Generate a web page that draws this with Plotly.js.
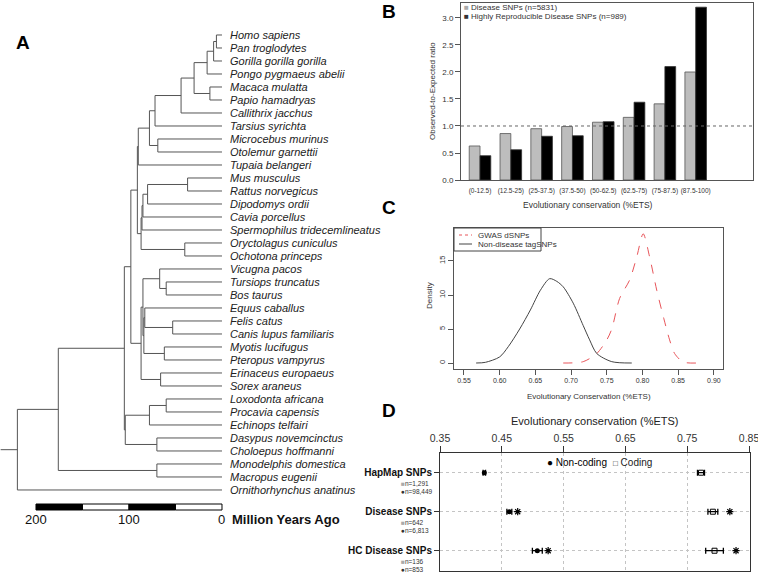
<!DOCTYPE html>
<html>
<head>
<meta charset="utf-8">
<script src="https://cdn.plot.ly/plotly-3.0.1.min.js"></script>
<style>body{margin:0;background:#fff}#fig{width:758px;height:572px}</style>
</head>
<body>
<div id="fig"></div>
<script>
// ---------- A: species tree, node ages in million years ----------
const tree = [220,
  [176,
    [105,
      [98,
        [91,
          [90,
            [78,
              [72, [44, [30, [16, [9, [6, 'Homo sapiens', 'Pan troglodytes'], 'Gorilla gorilla gorilla'], 'Pongo pygmaeus abelii'],
                          [13, 'Macaca mulatta', 'Papio hamadryas']], 'Callithrix jacchus'], 'Tarsius syrichta'],
              [69, 'Microcebus murinus', 'Otolemur garnettii']],
            'Tupaia belangeri'],
          [87,
            [86, [85, [80, [37, 'Mus musculus', 'Rattus norvegicus'], 'Dipodomys ordii'], 'Cavia porcellus'], 'Spermophilus tridecemlineatus'],
            [40, 'Oryctolagus cuniculus', 'Ochotona princeps']]],
        [87,
          [85,
            [67, 'Vicugna pacos', [60, 'Tursiops truncatus', 'Bos taurus']],
            [84, [83, 'Equus caballus', [53, 'Felis catus', 'Canis lupus familiaris']],
                 [62, 'Myotis lucifugus', 'Pteropus vampyrus']]],
          [66, 'Erinaceus europaeus', 'Sorex araneus']]],
      [104,
        [78, [60, 'Loxodonta africana', 'Procavia capensis'], 'Echinops telfairi'],
        [70, 'Dasypus novemcinctus', 'Choloepus hoffmanni']]],
    [70, 'Monodelphis domestica', 'Macropus eugenii']],
  'Ornithorhynchus anatinus'];
const rootAge = 238;
const scaleBreaks = [200, 150, 100, 50, 0];
const scaleLabels = [200, 100, 0];

// ---------- B: observed / expected ratio by %ETS bin ----------
const etsBins = ['(0-12.5)','(12.5-25)','(25-37.5)','(37.5-50)','(50-62.5)','(62.5-75)','(75-87.5)','(87.5-100)'];
const diseaseRatio = [0.63, 0.86, 0.95, 0.99, 1.07, 1.16, 1.41, 2.00];
const hrDiseaseRatio = [0.45, 0.56, 0.81, 0.82, 1.08, 1.44, 2.10, 3.20];
const expectedRatio = 1;

// ---------- C: density of conservation ----------
const tagX = [0.567,0.580,0.600,0.612,0.628,0.643,0.657,0.670,0.680,0.689,0.703,0.717,0.726,0.736,0.757,0.785];
const tagY = [0.0,0.1,0.9,2.4,5.0,7.8,10.7,12.4,12.0,11.2,8.8,5.5,3.4,1.4,0.2,0.0];
const gwasX = [0.689,0.717,0.736,0.750,0.757,0.768,0.782,0.792,0.801,0.810,0.820,0.830,0.838,0.845,0.857,0.876];
const gwasY = [0.0,0.2,1.4,3.4,5.0,9.5,12.2,15.6,19.0,15.6,10.7,6.5,3.4,1.4,0.15,0.0];

// ---------- D: mean conservation per SNP set ----------
const snpSets = ['HapMap SNPs', 'Disease SNPs', 'HC Disease SNPs'];
const nCoding = ['1,291', '642', '136'];
const nNonCoding = ['98,449', '6,813', '853'];
const nonCodingMean = [0.4217, 0.4622, 0.5075];
const nonCodingErr = [0.002, 0.004, 0.008];
const codingMean = [0.7723, 0.7915, 0.7942];
const codingErr = [0.0057, 0.008, 0.0143];
const nonCodingStar = [null, 0.4757, 0.525];
const codingStar = [null, 0.819, 0.829];

const W = 758, H = 572;
const px = v => v / W, py = v => 1 - v / H;
const FONT = 'Liberation Sans, Arial, sans-serif';

// lay out the tree
let leaves = [], tx = [], ty = [];
function seg(x0, x1, y0, y1) { tx.push(x0, x1, null); ty.push(y0, y1, null); }
function place(n, parentAge) {
  if (typeof n === 'string') {
    let y = leaves.length; leaves.push(n);
    seg(parentAge, 0, y, y);
    return y;
  }
  let [age, a, b] = n;
  let ya = place(a, age), yb = place(b, age);
  let y = (ya + yb) / 2;
  seg(age, age, ya, yb);
  seg(parentAge, age, y, y);
  return y;
}
place(tree, rootAge);

let traces = [];
traces.push({x: tx, y: ty, xaxis: 'x', yaxis: 'y', mode: 'lines', line: {color: '#555', width: 1}, hoverinfo: 'skip'});

let idx = etsBins.map((_, i) => i);
traces.push({type: 'bar', x: idx, y: diseaseRatio, xaxis: 'x2', yaxis: 'y2', name: 'Disease SNPs (n=5831)',
  marker: {color: '#bdbdbd', line: {color: '#555', width: 0.8}}});
traces.push({type: 'bar', x: idx, y: hrDiseaseRatio, xaxis: 'x2', yaxis: 'y2', name: 'Highly Reproducible Disease SNPs (n=989)',
  marker: {color: '#000', line: {color: '#333', width: 0.8}}});

traces.push({x: gwasX, y: gwasY, xaxis: 'x3', yaxis: 'y3', mode: 'lines', name: 'GWAS dSNPs',
  line: {color: '#e8555a', width: 1, dash: 'dash', shape: 'spline', smoothing: 0.8}});
traces.push({x: tagX, y: tagY, xaxis: 'x3', yaxis: 'y3', mode: 'lines', name: 'Non-disease tagSNPs',
  line: {color: '#444', width: 1, shape: 'spline', smoothing: 0.8}});

let rows = snpSets.map((_, i) => i);
traces.push({x: nonCodingMean, y: rows, xaxis: 'x4', yaxis: 'y4', mode: 'markers', name: 'Non-coding',
  marker: {symbol: 'circle', size: 5, color: '#000'},
  error_x: {type: 'data', array: nonCodingErr, color: '#000', thickness: 1.3, width: 3}});
traces.push({x: codingMean, y: rows, xaxis: 'x4', yaxis: 'y4', mode: 'markers', name: 'Coding',
  marker: {symbol: 'square-open', size: 5, color: '#000', line: {width: 1}},
  error_x: {type: 'data', array: codingErr, color: '#000', thickness: 1.3, width: 3}});
traces.push({x: nonCodingStar.concat(codingStar), y: rows.concat(rows), xaxis: 'x4', yaxis: 'y4', mode: 'markers',
  marker: {symbol: 'asterisk-open', size: 6, color: '#000', line: {width: 1.2, color: '#000'}}});

let ann = [];
function note(text, x, y, o) {
  ann.push(Object.assign({text: text, x: x, y: y, xref: 'paper', yref: 'paper', showarrow: false,
    xanchor: 'center', yanchor: 'middle', font: {family: FONT, size: 9, color: '#222'}}, o || {}));
}
// tree tip labels
leaves.forEach((name, i) => ann.push({text: '<i>' + name + '</i>', x: 0, y: i, xref: 'x', yref: 'y',
  xanchor: 'left', yanchor: 'middle', xshift: 6, showarrow: false, font: {family: FONT, size: 11, color: '#222'}}));
scaleLabels.forEach(v => ann.push({text: String(v), x: v, y: py(519), xref: 'x', yref: 'paper', yanchor: 'middle',
  showarrow: false, font: {family: FONT, size: 13, color: '#111'}}));
ann.push({text: '<b>Million Years Ago</b>', x: 0, y: py(519), xref: 'x', yref: 'paper', xanchor: 'left', yanchor: 'middle', xshift: 8,
  showarrow: false, font: {family: FONT, size: 13, color: '#111'}});

// panel letters
[['A', 23, 42], ['B', 389, 12], ['C', 389, 207], ['D', 389, 410]].forEach(l =>
  note('<b>' + l[0] + '</b>', px(l[1]), py(l[2]), {font: {family: FONT, size: 19, color: '#000'}}));

// axis titles
note('Observed-to-Expected ratio', px(433), py(91), {textangle: -90, font: {family: FONT, size: 8, color: '#333'}});
note('Evolutionary conservation (%ETS)', px(588), py(205), {font: {family: FONT, size: 8.5, color: '#333'}});
note('Density', px(429), py(296), {textangle: -90, font: {family: FONT, size: 8, color: '#333'}});
note('Evolutionary Conservation (%ETS)', px(589), py(396), {font: {family: FONT, size: 8, color: '#333'}});
note('Evolutionary conservation (%ETS)', px(595), py(421), {font: {family: FONT, size: 11, color: '#222'}});

// legend B
note('<span style="color:#aaa">■</span> ' + traces[1].name, px(462), py(8), {xanchor: 'left', font: {family: FONT, size: 8, color: '#333'}});
note('■ ' + traces[2].name, px(462), py(17), {xanchor: 'left', font: {family: FONT, size: 8, color: '#333'}});
// legend C
note(traces[3].name, px(476), py(235), {xanchor: 'left', font: {family: FONT, size: 8, color: '#333'}});
note(traces[4].name, px(476), py(244), {xanchor: 'left', font: {family: FONT, size: 8, color: '#333'}});
// legend D
note('● ' + traces[5].name, px(545), py(462), {xanchor: 'left', font: {family: FONT, size: 10, color: '#000'}});
note('<span style="font-size:8px">□</span> ' + traces[6].name, px(611), py(462), {xanchor: 'left', font: {family: FONT, size: 10, color: '#222'}});
// sample sizes in D
rows.forEach(i => {
  ann.push({text: '<span style="color:#aaa">■</span>n=' + nCoding[i] + '<br>●n=' + nNonCoding[i],
    x: px(399), y: i, xref: 'paper', yref: 'y4', align: 'left',
    xanchor: 'left', yanchor: 'middle', yshift: -14.5, showarrow: false, font: {family: FONT, size: 6.5, color: '#333'}});
});

let shapes = [];
for (let i = 0; i < scaleBreaks.length - 1; i++) {
  shapes.push({type: 'rect', xref: 'x', yref: 'paper', x0: scaleBreaks[i], x1: scaleBreaks[i + 1],
    y0: py(510), y1: py(504), fillcolor: i % 2 ? '#fff' : '#000', line: {color: '#000', width: 1}});
}
shapes.push({type: 'line', xref: 'x2 domain', yref: 'y2', x0: 0, x1: 1, y0: expectedRatio, y1: expectedRatio,
  line: {color: '#666', width: 1, dash: 'dot'}});
shapes.push({type: 'rect', xref: 'paper', yref: 'paper', x0: px(454), x1: px(541), y0: py(251), y1: py(228),
  line: {color: '#444', width: 1}});
shapes.push({type: 'line', xref: 'paper', yref: 'paper', x0: px(459), x1: px(472), y0: py(235), y1: py(235),
  line: {color: '#e8555a', width: 1, dash: 'dot'}});
shapes.push({type: 'line', xref: 'paper', yref: 'paper', x0: px(459), x1: px(472), y0: py(244), y1: py(244),
  line: {color: '#444', width: 1}});

const tickFont = s => ({family: FONT, size: s, color: '#333'});
const frame = {showline: true, mirror: true, linecolor: '#555', linewidth: 1, zeroline: false, showgrid: false};

let layout = {
  width: W, height: H, margin: {l: 0, r: 0, t: 0, b: 0}, showlegend: false,
  paper_bgcolor: '#fff', plot_bgcolor: 'rgba(0,0,0,0)',
  font: {family: FONT},
  barmode: 'group', bargap: 0.3, bargroupgap: 0,
  xaxis: {domain: [0, px(417)], range: [238.7, 238.7 - 417 / 0.93], visible: false},
  yaxis: {domain: [0, 1], range: [41.31, -2.692], visible: false},
  xaxis2: Object.assign({}, frame, {domain: [px(461), px(753)], anchor: 'y2', range: [-0.617, 8.86],
    tickvals: idx, ticktext: etsBins, tickangle: 0, ticks: 'outside', ticklen: 4, tickcolor: 'rgba(0,0,0,0)', tickfont: tickFont(6.5)}),
  yaxis2: Object.assign({}, frame, {domain: [py(180), py(2.7)], anchor: 'x2', range: [0, 3.283],
    tickvals: [0, 0.5, 1, 1.5, 2, 2.5, 3], tickformat: '.1f', ticks: 'outside', ticklen: 5, tickcolor: '#555', tickfont: tickFont(8)}),
  xaxis3: Object.assign({}, frame, {domain: [px(454), px(723)], anchor: 'y3', range: [0.536, 0.9128],
    tickvals: [0.55, 0.6, 0.65, 0.7, 0.75, 0.8, 0.85, 0.9], tickformat: '.2f', tickangle: 0, ticks: 'outside', ticklen: 5, tickcolor: '#555', tickfont: tickFont(7)}),
  yaxis3: Object.assign({}, frame, {domain: [py(369), py(228)], anchor: 'x3', range: [-0.88, 19.85],
    tickvals: [0, 5, 10, 15], tickangle: -90, ticks: 'outside', ticklen: 5, tickcolor: '#555', tickfont: tickFont(7.5)}),
  xaxis4: Object.assign({}, frame, {domain: [px(440), px(750)], anchor: 'y4', side: 'top', range: [0.35, 0.8516],
    tickvals: [0.35, 0.45, 0.55, 0.65, 0.75, 0.85], tickformat: '.2f', tickangle: 0, ticks: 'outside', ticklen: 6, tickcolor: '#333',
    ticklabeloverflow: 'allow', linecolor: '#333', showgrid: true, gridcolor: '#c4c4c4', griddash: 'dot', tickfont: tickFont(10.5)}),
  yaxis4: Object.assign({}, frame, {domain: [py(571), py(452.7)], anchor: 'x4', range: [2.52, -0.513],
    tickvals: rows, ticktext: snpSets.map(s => '<b>' + s + '</b>'), ticks: 'outside', ticklen: 5, tickcolor: '#333',
    linecolor: '#333', showgrid: true, gridcolor: '#c4c4c4', griddash: 'dot', tickfont: {family: FONT, size: 10, color: '#111'}}),
  annotations: ann, shapes: shapes
};

Plotly.newPlot('fig', traces, layout, {staticPlot: true});
</script>
</body>
</html>
